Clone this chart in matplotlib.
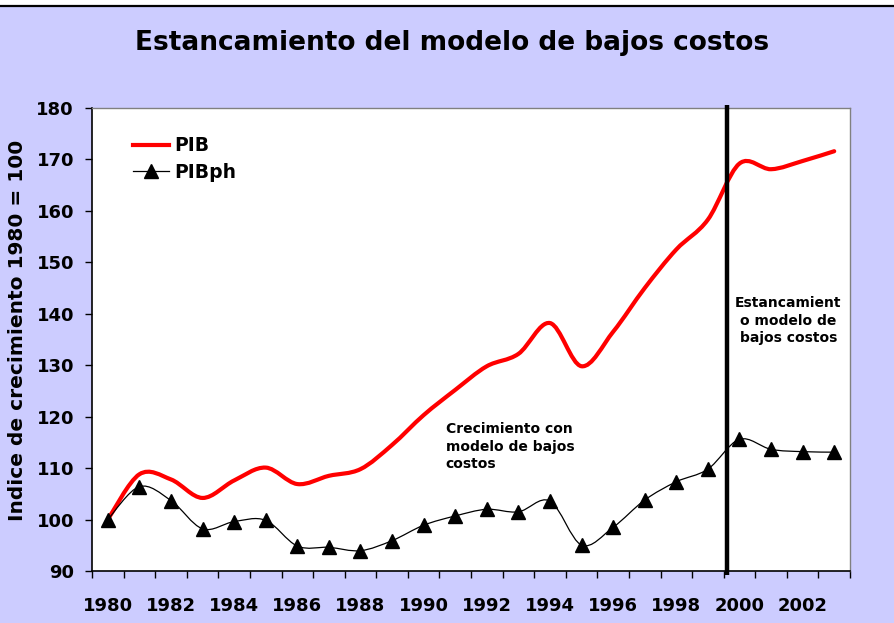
import matplotlib
matplotlib.use("Agg")
import matplotlib.pyplot as plt
import matplotlib.ticker as mticker
from matplotlib.path import Path
from matplotlib.patches import PathPatch, Rectangle
from matplotlib.lines import Line2D
import numpy as np

years = np.arange(1980, 2004)
pib = [100.0, 108.8, 107.8, 104.2, 107.6, 110.1, 106.9, 108.5, 109.8, 114.5,
       120.3, 125.2, 129.8, 132.2, 138.2, 129.8, 136.5, 145.0, 152.5, 158.3,
       169.2, 168.1, 169.7, 171.6]
pibph = [100.0, 106.4, 103.7, 98.2, 99.6, 99.85, 94.85, 94.6, 93.95, 95.9,
         98.9, 100.7, 102.0, 101.5, 103.6, 95.05, 98.5, 103.8, 107.35, 109.8,
         115.6, 113.65, 113.2, 113.1]
tick_years = np.arange(1980, 2004, 2)
break_year = 1999.6

title = "Estancamiento del modelo de bajos costos"
ylabel = "Indice de crecimiento 1980 = 100"
note_left = "Crecimiento con\nmodelo de bajos\ncostos"
note_right = "Estancamient\no modelo de\nbajos costos"

BG = "#CCCCFF"


def smooth_path(x, y):
    """Excel-like smoothed line as cubic Bezier segments."""
    pts = np.column_stack([x, y]).astype(float)
    n = len(pts)
    verts = [pts[0]]
    codes = [Path.MOVETO]
    for i in range(n - 1):
        p0 = pts[i - 1] if i > 0 else pts[i]
        p1 = pts[i]
        p2 = pts[i + 1]
        p3 = pts[i + 2] if i + 2 < n else pts[i + 1]
        c1 = p1 + (p2 - p0) / 6.0
        c2 = p2 - (p3 - p1) / 6.0
        verts += [c1, c2, p2]
        codes += [Path.CURVE4] * 3
    return Path(verts, codes)


plt.rcParams['font.family'] = ['DejaVu Sans']
plt.rcParams['font.weight'] = 'bold'

fig = plt.figure(figsize=(8.94, 6.23), dpi=100, facecolor=BG)
W, H = 894, 623

# top strip and border line
fig.patches.append(Rectangle((0, 1 - 6 / H), 1, 6 / H, transform=fig.transFigure,
                             facecolor='white', edgecolor='none', zorder=0))
fig.add_artist(Line2D([0, 1], [1 - 6 / H, 1 - 6 / H], transform=fig.transFigure,
                      color='black', lw=1.6))

ax = fig.add_axes([92 / W, 52 / H, (850 - 92) / W, (571 - 108) / H])
ax.set_facecolor('white')

ax.add_patch(PathPatch(smooth_path(years, pib), fill=False, edgecolor='#FF0000',
                       lw=3.0, capstyle='round', joinstyle='round', zorder=3))
ax.add_patch(PathPatch(smooth_path(years, pibph), fill=False, edgecolor='black',
                       lw=0.9, zorder=3))
ax.plot(years, pibph, ls='none', marker='^', ms=10, color='black', zorder=4)

ax.plot([break_year, break_year], [89.3, 180.6], color='black', lw=3.2,
        clip_on=False, zorder=5, solid_capstyle='butt')

ax.set_xlim(1979.5, 2003.5)
ax.set_ylim(90, 180)

ax.xaxis.set_major_locator(mticker.FixedLocator(tick_years))
ax.xaxis.set_minor_locator(mticker.FixedLocator(np.arange(1979.5, 2004, 1.0)))
ax.tick_params(axis='x', which='major', length=0, labelsize=13, pad=19)
ax.tick_params(axis='x', which='minor', length=5, width=1, direction='out')
ax.yaxis.set_major_locator(mticker.MultipleLocator(10))
ax.tick_params(axis='y', which='major', length=5, width=1, direction='out',
               labelsize=13, pad=8)
for lab in ax.get_xticklabels() + ax.get_yticklabels():
    lab.set_fontweight('bold')

for s in ['left', 'bottom']:
    ax.spines[s].set_color('black')
    ax.spines[s].set_linewidth(1.2)
for s in ['top', 'right']:
    ax.spines[s].set_color('#808080')
    ax.spines[s].set_linewidth(1.0)

fig.text(452 / W, 1 - 43 / H, title, ha='center', va='center',
         fontsize=19, fontweight='bold')
fig.text(18 / W, 1 - 330 / H, ylabel, ha='center', va='center', rotation=90,
         fontsize=14.5, fontweight='bold')

ax.text(1990.7, 118.9, note_left, ha='left', va='top', fontsize=10,
        fontweight='bold', linespacing=1.3)
ax.text(2001.55, 143.4, note_right, ha='center', va='top', fontsize=10,
        fontweight='bold', linespacing=1.3)

handles = [Line2D([], [], color='#FF0000', lw=3.0),
           Line2D([], [], color='black', lw=0.9, marker='^', ms=10)]
leg = ax.legend(handles, ['PIB', 'PIBph'], loc='upper left',
                bbox_to_anchor=(0.032, 0.975), frameon=False,
                prop={'size': 13.5, 'weight': 'bold'}, handlelength=1.9,
                handletextpad=0.3, labelspacing=0.4)

fig.savefig('out.png', dpi=100, facecolor=BG)
